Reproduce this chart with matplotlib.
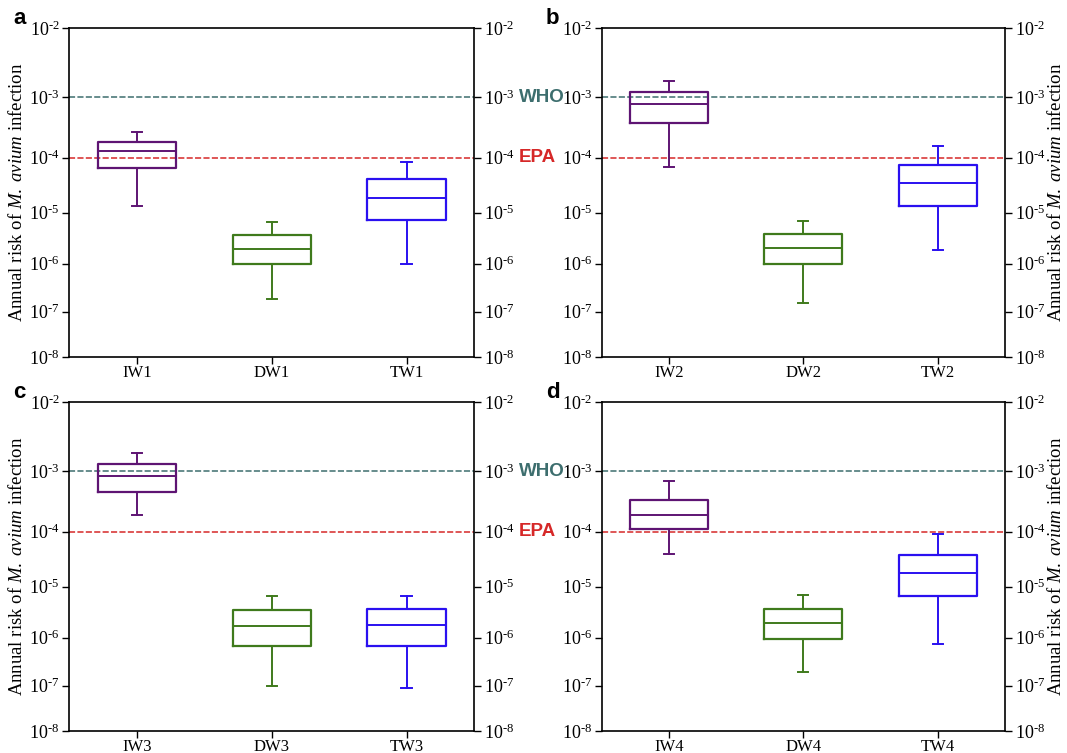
import numpy as np
import matplotlib
matplotlib.use("Agg")
import matplotlib.pyplot as plt
from matplotlib.ticker import FixedLocator, NullLocator

plt.rcParams['font.family'] = ['Liberation Serif', 'DejaVu Serif']
plt.rcParams['mathtext.fontset'] = 'custom'
plt.rcParams['mathtext.rm'] = 'Liberation Serif'
plt.rcParams['mathtext.it'] = 'Liberation Serif:italic'

# box stats: whisker low, q1, median, q3, whisker high
groups = {
    'a': ['IW1', 'DW1', 'TW1'],
    'b': ['IW2', 'DW2', 'TW2'],
    'c': ['IW3', 'DW3', 'TW3'],
    'd': ['IW4', 'DW4', 'TW4'],
}
whislo = {'a': [1.35e-5, 1.9e-7, 1.0e-6], 'b': [6.95e-5, 1.55e-7, 1.9e-6],
          'c': [1.94e-4, 1.0e-7, 9.1e-8], 'd': [4.05e-5, 1.97e-7, 7.4e-7]}
q1 = {'a': [6.7e-5, 1.0e-6, 7.2e-6], 'b': [3.9e-4, 1.0e-6, 1.35e-5],
      'c': [4.7e-4, 6.7e-7, 6.7e-7], 'd': [1.11e-4, 9.4e-7, 6.8e-6]}
med = {'a': [1.3e-4, 2.0e-6, 1.93e-5], 'b': [7.85e-4, 2.1e-6, 3.5e-5],
       'c': [8.4e-4, 1.75e-6, 1.8e-6], 'd': [1.96e-4, 2.0e-6, 1.85e-5]}
q3 = {'a': [1.83e-4, 3.76e-6, 4.2e-5], 'b': [1.2e-3, 3.9e-6, 7.6e-5],
      'c': [1.27e-3, 3.5e-6, 3.7e-6], 'd': [3.5e-4, 3.8e-6, 3.9e-5]}
whishi = {'a': [2.7e-4, 6.8e-6, 8.4e-5], 'b': [1.76e-3, 7.0e-6, 1.6e-4],
          'c': [1.88e-3, 6.7e-6, 6.6e-6], 'd': [6.9e-4, 7.0e-6, 9.1e-5]}

who_limit = 1e-3
epa_limit = 1e-4
decades = [-8, -7, -6, -5, -4, -3, -2]

colors = ['#5e1473', '#3f7a1c', '#2a10f0']
who_color = '#3d6e6e'
epa_color = '#d62828'

# the y axis in the original is a compressed log scale
P = 0.62
def fwd(y):
    y = np.clip(y, 1e-30, 0.999)
    return -(-np.log10(y)) ** P

def inv(u):
    u = np.clip(u, -1e6, -1e-9)
    return 10 ** (-(-u) ** (1 / P))

fig = plt.figure(figsize=(10.67, 7.53), dpi=100)
W, H = 1067, 753
boxes_px = {'a': (69.3, 28, 404.7, 329), 'b': (601.7, 28, 403.5, 329),
            'c': (69.3, 402, 404.7, 329), 'd': (601.7, 402, 403.5, 329)}

for key in ['a', 'b', 'c', 'd']:
    x0, y0, w, h = boxes_px[key]
    ax = fig.add_axes([x0 / W, 1 - (y0 + h) / H, w / W, h / H])
    ax.set_yscale('function', functions=(fwd, inv))
    ax.set_ylim(1e-8, 1e-2)
    ax.set_xlim(0.5, 3.5)

    ax.axhline(who_limit, color=who_color, lw=1.1, ls=(0, (4, 1.5)), zorder=1)
    ax.axhline(epa_limit, color=epa_color, lw=1.1, ls=(0, (4, 1.5)), zorder=1)

    stats = []
    for i, name in enumerate(groups[key]):
        stats.append(dict(label=name, whislo=whislo[key][i], q1=q1[key][i],
                          med=med[key][i], q3=q3[key][i], whishi=whishi[key][i],
                          fliers=[]))
    bp = ax.bxp(stats, positions=[1, 2, 3], widths=0.58, capwidths=0.075,
                showfliers=False, patch_artist=False)
    for i in range(3):
        c = colors[i]
        bp['boxes'][i].set(color=c, lw=1.6)
        bp['medians'][i].set(color=c, lw=1.4)
        for j in (2 * i, 2 * i + 1):
            bp['whiskers'][j].set(color=c, lw=1.4)
            bp['caps'][j].set(color=c, lw=1.4)

    ax.yaxis.set_major_locator(FixedLocator([10.0 ** d for d in decades]))
    ax.yaxis.set_minor_locator(NullLocator())
    ax.set_yticklabels(['10$^{\u2010%d}$' % (-d) for d in decades])
    ax.tick_params(axis='y', which='major', direction='out', length=5, width=1,
                   labelsize=13, left=True, right=True, labelleft=True,
                   labelright=True, pad=2)
    ax.tick_params(axis='x', direction='out', length=5, width=1,
                   labelsize=12, top=False, pad=1)
    for s in ax.spines.values():
        s.set_linewidth(1.2)

    if key in ('b', 'd'):
        ax.set_ylabel('Annual risk of $\\it{M.\\ avium}$ infection',
                      fontsize=13.5, labelpad=1.5)
        ax.yaxis.set_label_position('right')
    else:
        ax.set_ylabel('Annual risk of $\\it{M.\\ avium}$ infection',
                      fontsize=13.5, labelpad=2)
        ax.text(1.11, who_limit, 'WHO', transform=ax.get_yaxis_transform(),
                ha='left', va='center', fontsize=13.5, fontweight='bold',
                color=who_color, family=['Liberation Sans', 'DejaVu Sans'],
                clip_on=False)
        ax.text(1.11, epa_limit, 'EPA', transform=ax.get_yaxis_transform(),
                ha='left', va='center', fontsize=13.5, fontweight='bold',
                color=epa_color, family=['Liberation Sans', 'DejaVu Sans'],
                clip_on=False)

    fig.text((x0 - 56) / W, 1 - (y0 - 10) / H, key, fontsize=16,
             fontweight='bold', ha='left', va='center',
             family=['Liberation Sans', 'DejaVu Sans'])

fig.savefig('out.png', dpi=100)
